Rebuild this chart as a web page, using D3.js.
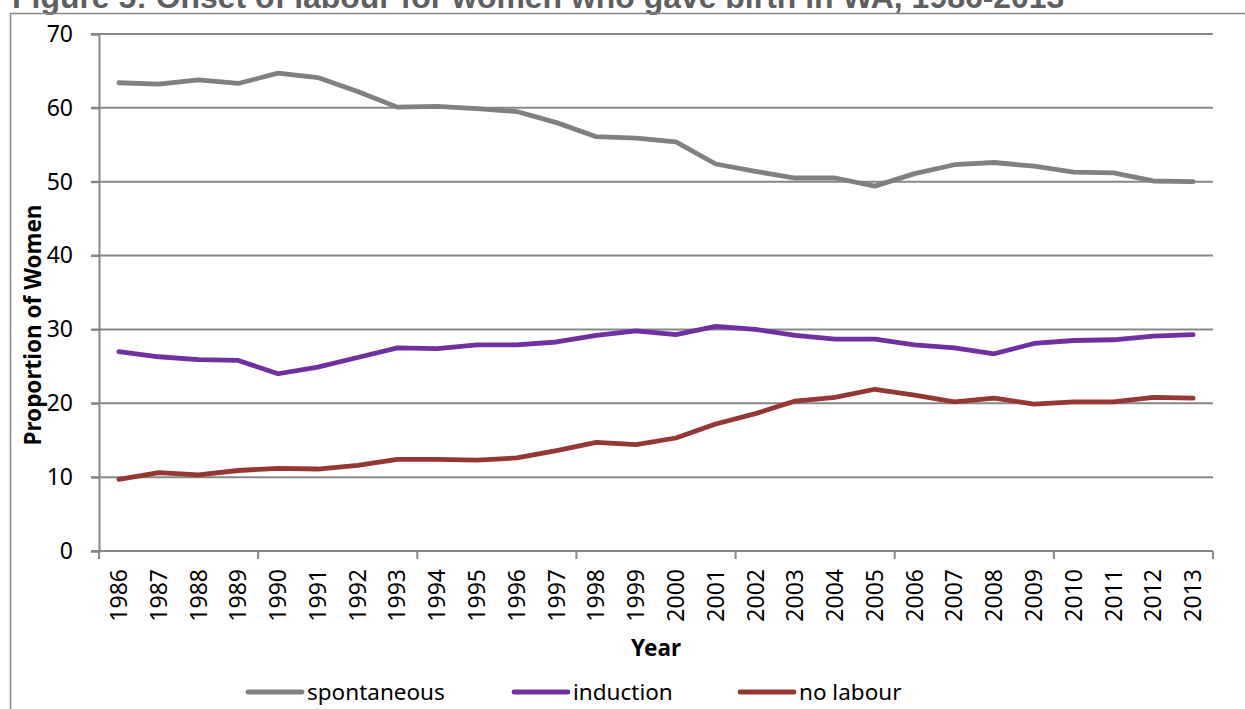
<!DOCTYPE html>
<html><head><meta charset="utf-8">
<script src="https://cdn.jsdelivr.net/npm/d3@7"></script>
<style>
html,body{margin:0;padding:0;background:#fff;overflow:hidden;}
svg{display:block;}
</style></head>
<body>
<svg id="chart" width="1245" height="709"></svg>
<script>
const years = [1986,1987,1988,1989,1990,1991,1992,1993,1994,1995,1996,1997,1998,1999,2000,2001,2002,2003,2004,2005,2006,2007,2008,2009,2010,2011,2012,2013];
const spontaneous = [63.4,63.2,63.8,63.3,64.7,64.1,62.2,60.1,60.2,59.9,59.5,58.0,56.1,55.9,55.4,52.4,51.4,50.5,50.5,49.4,51.1,52.3,52.6,52.1,51.3,51.2,50.1,50.0];
const induction = [27.0,26.3,25.9,25.8,24.0,24.9,26.2,27.5,27.4,27.9,27.9,28.3,29.2,29.8,29.3,30.4,30.0,29.2,28.7,28.7,27.9,27.5,26.7,28.1,28.5,28.6,29.1,29.3];
const noLabour = [9.7,10.6,10.3,10.9,11.2,11.1,11.6,12.4,12.4,12.3,12.6,13.6,14.7,14.4,15.3,17.2,18.6,20.3,20.8,21.9,21.1,20.2,20.7,19.9,20.2,20.2,20.8,20.7];
const yTicks = [0,10,20,30,40,50,60,70];
const seriesNames = ["spontaneous","induction","no labour"];
const seriesColors = ["#808080","#7030A0","#953735"];
const titleText = "Figure 5: Onset of labour for women who gave birth in WA, 1986-2013";

const svg = d3.select("#chart");
const L = 99, R = 1213, T = 34, B = 551;
const font = "'Noto Sans', 'Open Sans', sans-serif";
const grid = "#878787";

// title (cut off at top as in the original)
const title = svg.append("text").attr("x", 12).attr("y", 8)
  .attr("font-family", "'Liberation Sans', Arial, sans-serif")
  .attr("font-weight", "bold").attr("font-size", 32).attr("fill", "#5f5f5f")
  .text(titleText);
const tw = title.node().getComputedTextLength();
title.attr("font-size", 32 * 1053 / tw);

// frame
svg.append("path").attr("d", `M10.5,${709} V13.5 H1245`).attr("fill","none")
  .attr("stroke", grid).attr("stroke-width", 1.5);

const x = d3.scaleBand().domain(years).range([L, R]).padding(0);
const y = d3.scaleLinear().domain([0, 70]).range([B, T]);

// gridlines
svg.append("g").selectAll("line").data(yTicks.filter(d => d > 0)).join("line")
  .attr("x1", L - 8).attr("x2", R).attr("y1", d => y(d)).attr("y2", d => y(d))
  .attr("stroke", grid).attr("stroke-width", 2);

// y axis
const yAxis = svg.append("g").attr("transform", `translate(${L},0)`)
  .call(d3.axisLeft(y).tickValues(yTicks).tickSize(8).tickPadding(18));
yAxis.select(".domain").attr("stroke", grid).attr("stroke-width", 2);
yAxis.selectAll(".tick line").attr("stroke", grid).attr("stroke-width", 2);
yAxis.selectAll("text").attr("font-family", font).attr("font-size", 23).attr("fill", "#000");

// x axis
const xAxis = svg.append("g").attr("transform", `translate(0,${B})`)
  .call(d3.axisBottom(x).tickSize(0).tickPadding(0));
xAxis.select(".domain").remove();
xAxis.append("line").attr("x1", L - 8).attr("x2", R).attr("y1", 0).attr("y2", 0)
  .attr("stroke", grid).attr("stroke-width", 2);
xAxis.selectAll(".tick text")
  .attr("font-family", font).attr("font-size", 23).attr("fill", "#000")
  .attr("transform", "rotate(-90)").attr("text-anchor", "end")
  .attr("x", -18).attr("y", 0).attr("dy", "0.35em");
// major ticks every 4 categories at boundaries
const bounds = years.filter((d, i) => i % 4 === 0).map(d => x(d)).concat([R]);
xAxis.selectAll(".major").data(bounds).join("line").attr("class","major")
  .attr("x1", d => d).attr("x2", d => d).attr("y1", 0).attr("y2", 8)
  .attr("stroke", grid).attr("stroke-width", 2);

// axis titles
svg.append("text").attr("x", 656).attr("y", 656).attr("text-anchor", "middle")
  .attr("font-family", font).attr("font-weight", "bold").attr("font-size", 22.5).text("Year");
svg.append("text").attr("transform", "translate(41,325) rotate(-90)").attr("text-anchor", "middle")
  .attr("font-family", font).attr("font-weight", "bold").attr("font-size", 22.5).text("Proportion of Women");

// lines
const allSeries = [spontaneous, induction, noLabour];
const line = d3.line().x((d, i) => x(years[i]) + x.bandwidth() / 2).y(d => y(d));
svg.append("g").selectAll("path").data(allSeries).join("path")
  .attr("d", d => line(d)).attr("fill", "none")
  .attr("stroke", (d, i) => seriesColors[i]).attr("stroke-width", 4.8)
  .attr("stroke-linecap", "round").attr("stroke-linejoin", "round");

// legend
const legX = [248, 514, 740];
const leg = svg.append("g").selectAll("g").data(seriesNames).join("g")
  .attr("transform", (d, i) => `translate(${legX[i]},692)`);
leg.append("line").attr("x1", 0).attr("x2", 54).attr("y1", 0).attr("y2", 0)
  .attr("stroke", (d, i) => seriesColors[i]).attr("stroke-width", 4.8).attr("stroke-linecap", "round");
leg.append("text").attr("x", 59).attr("y", 0).attr("dy", "0.35em")
  .attr("font-family", font).attr("font-size", 22.5).text(d => d);
</script>
</body></html>
